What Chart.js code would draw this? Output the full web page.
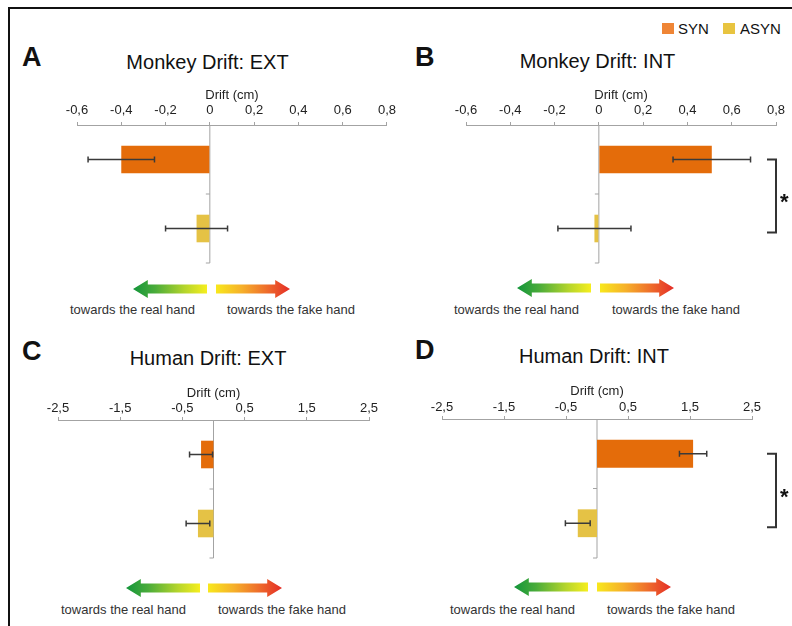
<!DOCTYPE html>
<html>
<head>
<meta charset="utf-8">
<script src="https://cdn.jsdelivr.net/npm/chart.js@4/dist/chart.umd.min.js"></script>
<style>
body { margin: 0; width: 792px; height: 626px; position: relative; overflow: hidden; background: #fff;
       font-family: "Liberation Sans", Arial, sans-serif; color: #111; }
.frame { position: absolute; left: 8px; top: 7px; width: 790px; height: 640px;
         border-top: 2.5px solid #111; border-left: 2.5px solid #111; }
canvas { position: absolute; }
.t { position: absolute; white-space: nowrap; }
.letter { font-size: 27px; line-height: 27px; font-weight: bold; }
.title { font-size: 20px; line-height: 20px; transform: translateX(-50%); }
.hint { font-size: 13px; line-height: 13px; color: #333; }
.sq { position: absolute; width: 12px; height: 11px; }
.leg { font-size: 15px; line-height: 15px; }
.arr { position: absolute; width: 74px; height: 18px; }
.arr.l { clip-path: polygon(0 50%, 20% 0, 20% 25%, 100% 25%, 100% 75%, 20% 75%, 20% 100%);
         background: linear-gradient(to right, #13953b 0%, #4aac3a 30%, #b5d52c 70%, #f6ee1e 100%); }
.arr.r { clip-path: polygon(100% 50%, 80% 0, 80% 25%, 0 25%, 0 75%, 80% 75%, 80% 100%);
         background: linear-gradient(to right, #f8e81c 0%, #f6b02a 35%, #ee6a2b 70%, #e42d27 100%); }
</style>
</head>
<body>
<div class="frame"></div>

<div class="sq" style="left:662px;top:23px;background:#ef8535"></div>
<div class="t leg" style="left:678px;top:20.5px">SYN</div>
<div class="sq" style="left:723px;top:23px;background:#e8c440"></div>
<div class="t leg" style="left:740px;top:20.5px">ASYN</div>

<div class="t letter" style="left:22px;top:43.5px">A</div>
<div class="t title" style="left:207.5px;top:52px">Monkey Drift: EXT</div>
<div class="t letter" style="left:415px;top:43.5px">B</div>
<div class="t title" style="left:597.5px;top:51px">Monkey Drift: INT</div>
<div class="t letter" style="left:22px;top:337.5px">C</div>
<div class="t title" style="left:208px;top:348px">Human Drift: EXT</div>
<div class="t letter" style="left:415px;top:336.5px">D</div>
<div class="t title" style="left:594px;top:346px">Human Drift: INT</div>

<canvas id="chartA" width="400" height="180" style="left:0;top:85px"></canvas>
<canvas id="chartB" width="392" height="180" style="left:400px;top:85px"></canvas>
<canvas id="chartC" width="400" height="180" style="left:0;top:380px"></canvas>
<canvas id="chartD" width="392" height="181" style="left:400px;top:379px"></canvas>

<div class="arr l" style="left:133px;top:280px"></div>
<div class="arr r" style="left:216px;top:280px"></div>
<div class="t hint" style="left:70px;top:302.5px">towards the real hand</div>
<div class="t hint" style="left:227px;top:302.5px">towards the fake hand</div>

<div class="arr l" style="left:517px;top:279px"></div>
<div class="arr r" style="left:600px;top:279px"></div>
<div class="t hint" style="left:454px;top:302.5px">towards the real hand</div>
<div class="t hint" style="left:612px;top:302.5px">towards the fake hand</div>

<div class="arr l" style="left:126px;top:579px"></div>
<div class="arr r" style="left:208px;top:579px"></div>
<div class="t hint" style="left:61px;top:602.5px">towards the real hand</div>
<div class="t hint" style="left:218px;top:602.5px">towards the fake hand</div>

<div class="arr l" style="left:514px;top:578px"></div>
<div class="arr r" style="left:597px;top:578px"></div>
<div class="t hint" style="left:450px;top:602.5px">towards the real hand</div>
<div class="t hint" style="left:607px;top:602.5px">towards the fake hand</div>

<script>
const categories = ['SYN', 'ASYN'];
const barColors = ['#e46c0a', '#e5c245'];

const monkeyExt = [-0.40, -0.06];
const monkeyExtErr = [0.15, 0.14];
const monkeyInt = [0.51, -0.02];
const monkeyIntErr = [0.175, 0.165];
const humanExt = [-0.20, -0.25];
const humanExtErr = [0.185, 0.19];
const humanInt = [1.55, -0.31];
const humanIntErr = [0.22, 0.20];

const monkeyTicks = [-0.6, -0.4, -0.2, 0, 0.2, 0.4, 0.6, 0.8];
const humanTicks = [-2.5, -1.5, -0.5, 0.5, 1.5, 2.5];

// zero line, category ticks, error bars and the significance bracket
const extrasPlugin = {
    id: 'extras',
    beforeDatasetsDraw(chart) {
        const {ctx, chartArea, scales: {x, y}} = chart;
        const x0 = x.getPixelForValue(0);
        ctx.save();
        ctx.strokeStyle = '#a3a3a3';
        ctx.lineWidth = 1;
        ctx.beginPath();
        ctx.moveTo(x0, chartArea.top);
        ctx.lineTo(x0, chartArea.bottom);
        for (let i = 0; i < chart.data.labels.length; i++) {
            const by = y.getPixelForValue(i + 0.5);
            ctx.moveTo(x0 - 4, by);
            ctx.lineTo(x0, by);
        }
        ctx.stroke();
        ctx.restore();
    },
    afterDatasetsDraw(chart, args, opts) {
        const {ctx, chartArea, scales: {x}} = chart;
        const meta = chart.getDatasetMeta(0);
        const vals = chart.data.datasets[0].data;
        ctx.save();
        ctx.strokeStyle = '#3a3a3a';
        ctx.lineWidth = 1.5;
        meta.data.forEach((bar, i) => {
            const lo = x.getPixelForValue(vals[i] - opts.errors[i]);
            const hi = x.getPixelForValue(vals[i] + opts.errors[i]);
            ctx.beginPath();
            ctx.moveTo(lo, bar.y); ctx.lineTo(hi, bar.y);
            ctx.moveTo(lo, bar.y - 3); ctx.lineTo(lo, bar.y + 3);
            ctx.moveTo(hi, bar.y - 3); ctx.lineTo(hi, bar.y + 3);
            ctx.stroke();
        });
        if (opts.bracket) {
            const bx = chartArea.right + opts.bracket.dx;
            const y1 = meta.data[0].y;
            const y2 = meta.data[1].y + 4;
            ctx.strokeStyle = '#333';
            ctx.lineWidth = 2;
            ctx.beginPath();
            ctx.moveTo(bx - 9, y1); ctx.lineTo(bx, y1); ctx.lineTo(bx, y2); ctx.lineTo(bx - 9, y2);
            ctx.stroke();
            ctx.fillStyle = '#111';
            ctx.font = 'bold 22px "Liberation Sans", Arial, sans-serif';
            ctx.textAlign = 'left';
            ctx.textBaseline = 'alphabetic';
            ctx.fillText(opts.bracket.label, bx + 4, (y1 + y2) / 2 + 13);
        }
        ctx.restore();
    }
};

function makeChart(id, values, errors, ticks, pad, tickPad, titlePad, bracket) {
    return new Chart(document.getElementById(id), {
        type: 'bar',
        data: {
            labels: categories,
            datasets: [{
                data: values,
                backgroundColor: barColors,
                categoryPercentage: 1,
                barPercentage: 0.4
            }]
        },
        options: {
            indexAxis: 'y',
            responsive: false,
            animation: false,
            layout: { padding: pad },
            plugins: {
                legend: { display: false },
                tooltip: { enabled: false },
                extras: { errors: errors, bracket: bracket }
            },
            scales: {
                x: {
                    position: 'top',
                    min: ticks[0],
                    max: ticks[ticks.length - 1],
                    afterBuildTicks: scale => { scale.ticks = ticks.map(v => ({ value: v })); },
                    afterFit: scale => { scale.height = 40; },
                    grid: { drawOnChartArea: false, tickLength: 3, color: '#a3a3a3' },
                    border: { color: '#a3a3a3', width: 1 },
                    ticks: {
                        padding: tickPad,
                        color: '#222',
                        font: { family: '"Liberation Sans", Arial, sans-serif', size: 13 },
                        callback: v => String(v).replace('.', ',')
                    },
                    title: {
                        display: true,
                        text: 'Drift (cm)',
                        color: '#222',
                        padding: { top: titlePad, bottom: 0 },
                        font: { family: '"Liberation Sans", Arial, sans-serif', size: 13 }
                    }
                },
                y: { display: false }
            }
        },
        plugins: [extrasPlugin]
    });
}

makeChart('chartA', monkeyExt, monkeyExtErr, monkeyTicks,
    { left: 77, right: 12, top: 0, bottom: 2 }, 4, 3, null);
makeChart('chartB', monkeyInt, monkeyIntErr, monkeyTicks,
    { left: 66, right: 16, top: 0, bottom: 2 }, 4, 3, { dx: 0, label: '*' });
makeChart('chartC', humanExt, humanExtErr, humanTicks,
    { left: 58, right: 31, top: 0, bottom: 2 }, 1, 6, null);
makeChart('chartD', humanInt, humanIntErr, humanTicks,
    { left: 42, right: 40, top: 0, bottom: 2 }, 1, 5, { dx: 24, label: '*' });
</script>
</body>
</html>
